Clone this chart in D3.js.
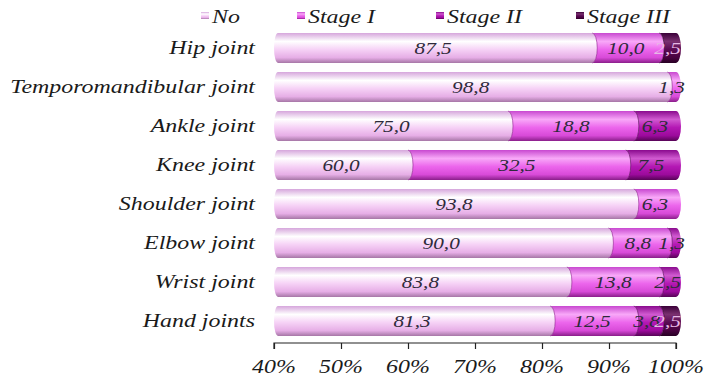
<!DOCTYPE html>
<html>
<head>
<meta charset="utf-8">
<script src="https://cdn.jsdelivr.net/npm/d3@7"></script>
<style>
  html, body { margin: 0; padding: 0; background: #fff; }
  svg { display: block; }
  text { font-family: "Liberation Serif", "Times New Roman", serif; font-style: italic; }
</style>
</head>
<body>
<svg id="chart" width="704" height="380"></svg>
<script>
// Joint involvement by stage (percent of patients)
const categories = ["Hip joint", "Temporomandibular joint", "Ankle joint", "Knee joint",
                    "Shoulder joint", "Elbow joint", "Wrist joint", "Hand joints"];
const seriesNames = ["No", "Stage I", "Stage II", "Stage III"];
const noStage   = [87.5, 98.8, 75.0, 60.0, 93.8, 90.0, 83.8, 81.3];
const stageI    = [10.0,  1.3, 18.8, 32.5,  6.3,  8.8, 13.8, 12.5];
const stageII   = [ 0,    0,    6.3,  7.5,  0,    1.3,  2.5,  3.8];
const stageIII  = [ 2.5,  0,    0,    0,    0,    0,    0,    2.5];
const tickValues = [0.4, 0.5, 0.6, 0.7, 0.8, 0.9, 1.0];
const tickLabels = ["40%", "50%", "60%", "70%", "80%", "90%", "100%"];

const series = [noStage, stageI, stageII, stageIII];

// gradient stops per series: [top edge, highlight, body, lower body, bottom edge]
const palettes = [
  ["#d6a6dc", "#ffffff", "#f6d2f6", "#e6aee6", "#a676a6"],
  ["#c848d0", "#f8a8f8", "#ec66ec", "#d84ad8", "#8a1e8a"],
  ["#8a0a8e", "#d05ad0", "#b418b4", "#9c0a9c", "#560456"],
  ["#3a0038", "#7a3070", "#5a0a52", "#48023f", "#280024"]
];
const labelColors = ["#2e2a3a", "#2e2a3a", "#2e2a3a", "#e6b8e6"];

const svg = d3.select("#chart");
const defs = svg.append("defs");
palettes.forEach((p, i) => {
  const g = defs.append("linearGradient").attr("id", "grad" + i)
    .attr("x1", 0).attr("y1", 0).attr("x2", 0).attr("y2", 1);
  [[0, p[0]], [0.28, p[1]], [0.55, p[2]], [0.82, p[3]], [1, p[4]]].forEach(([o, c]) =>
    g.append("stop").attr("offset", o).attr("stop-color", c));
});

const x = d3.scaleLinear().domain([0.4, 1.0]).range([274, 676]);
const y = d3.scalePoint().domain(categories).range([48, 321]);
const barH = 30;
const capRx = 5;
const stretch = 1.33;

// stretched italic text helper
function label(parent, tx, ty, str, size, anchor, fill) {
  return parent.append("text")
    .attr("transform", `translate(${tx},${ty}) scale(${stretch},1)`)
    .attr("text-anchor", anchor)
    .attr("font-size", size)
    .attr("fill", fill)
    .text(str);
}

// stacked (normalised) segments
const rows = categories.map((c, i) => {
  const vals = series.map(s => s[i]);
  const total = d3.sum(vals);
  let cum = 0;
  return vals.map((v, k) => {
    const s0 = cum / total; cum += v;
    return { cat: c, k, v, s0, s1: cum / total };
  }).filter(d => d.v > 0);
});

const bars = svg.append("g");
rows.forEach(segs => {
  segs.forEach((d, idx) => {
    const cy = y(d.cat), top = cy - barH / 2, bot = cy + barH / 2, ry = barH / 2;
    const x0 = x(Math.max(d.s0, 0.4)), x1 = x(d.s1);
    if (x1 <= x0) return;
    const first = d.s0 <= 0.4;
    const path = first
      ? `M${x0 + 4},${top} L${x1},${top} A${capRx},${ry} 0 0 1 ${x1},${bot} L${x0 + 4},${bot} A4,${ry} 0 0 1 ${x0 + 4},${top} Z`
      : `M${x0},${top} L${x1},${top} A${capRx},${ry} 0 0 1 ${x1},${bot} L${x0},${bot} A${capRx},${ry} 0 0 0 ${x0},${top} Z`;
    bars.append("path").attr("d", path).attr("fill", `url(#grad${d.k})`);
    if (!first) {
      bars.append("path")
        .attr("d", `M${x0},${bot} A${capRx},${ry} 0 0 0 ${x0},${top}`)
        .attr("fill", "none").attr("stroke", palettes[d.k][4]).attr("stroke-opacity", 0.6).attr("stroke-width", 1);
    }
  });
});

// value labels
const labels = svg.append("g");
rows.forEach(segs => {
  segs.forEach(d => {
    const x0 = x(Math.max(d.s0, 0.4)), x1 = x(d.s1);
    label(labels, (x0 + x1) / 2, y(d.cat) + 6, d3.format(".1f")(d.v).replace(".", ","), 16, "middle", labelColors[d.k]);
  });
});

// category labels
categories.forEach(c => label(svg, 255, y(c) + 6, c, 18, "end", "#1a1a1a"));

// x axis
const axis = d3.axisBottom(x).tickValues(tickValues).tickSize(6).tickFormat("");
const ax = svg.append("g").attr("transform", "translate(0,343)").call(axis);
ax.select(".domain").attr("stroke", "#222").attr("stroke-width", 1.2).attr("d", `M274,6V0H676V6`);
ax.selectAll(".tick line").attr("stroke", "#222").attr("stroke-width", 1.2);
tickValues.forEach((t, i) => label(svg, x(t), 373, tickLabels[i], 18, "middle", "#1a1a1a"));

// legend
const legendX = [201, 297, 436, 576];
seriesNames.forEach((n, i) => {
  svg.append("rect").attr("x", legendX[i]).attr("y", 12).attr("width", 8).attr("height", 7)
    .attr("fill", `url(#grad${i})`);
  label(svg, legendX[i] + 11, 23, n, 18, "start", "#1a1a1a");
});
</script>
</body>
</html>
